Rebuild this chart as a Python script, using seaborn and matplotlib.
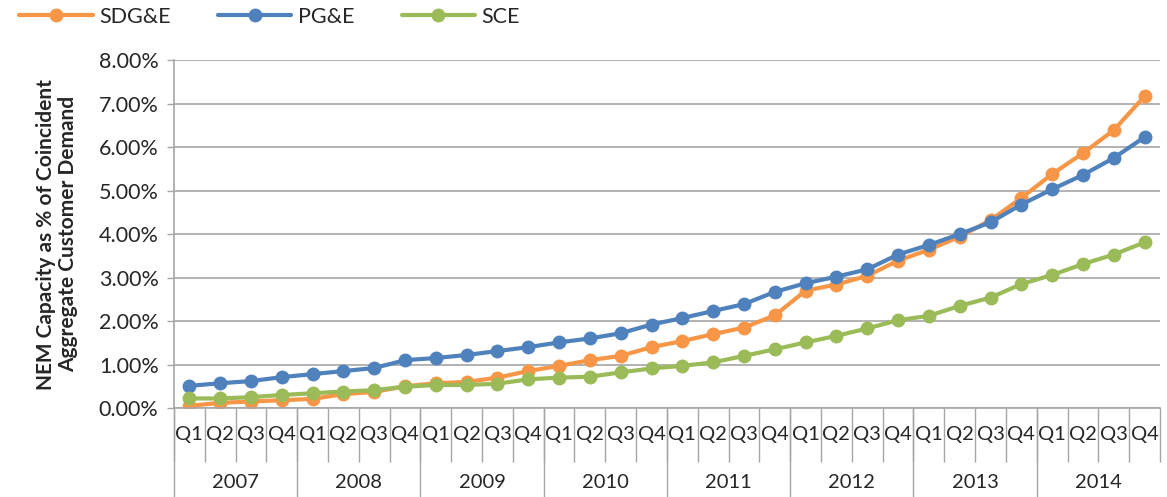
import matplotlib.pyplot as plt
import numpy as np
import pandas as pd
import seaborn as sns
from matplotlib.ticker import PercentFormatter

years = ["2007", "2008", "2009", "2010", "2011", "2012", "2013", "2014"]
quarters = ["Q1", "Q2", "Q3", "Q4"]

# share of coincident aggregate customer demand (percent)
sdge = [0.05, 0.12, 0.15, 0.18, 0.21, 0.32, 0.37, 0.50,
        0.57, 0.60, 0.70, 0.85, 0.97, 1.10, 1.20, 1.40,
        1.54, 1.70, 1.85, 2.13, 2.70, 2.84, 3.04, 3.39,
        3.64, 3.94, 4.32, 4.83, 5.38, 5.86, 6.39, 7.17]
pge = [0.51, 0.57, 0.62, 0.71, 0.78, 0.85, 0.92, 1.10,
       1.15, 1.22, 1.31, 1.40, 1.51, 1.60, 1.72, 1.92,
       2.07, 2.23, 2.39, 2.67, 2.87, 3.02, 3.19, 3.53,
       3.75, 4.00, 4.27, 4.68, 5.03, 5.36, 5.75, 6.23]
sce = [0.22, 0.22, 0.25, 0.30, 0.34, 0.38, 0.41, 0.49,
       0.53, 0.53, 0.56, 0.66, 0.70, 0.72, 0.82, 0.91,
       0.97, 1.05, 1.20, 1.35, 1.51, 1.66, 1.83, 2.02,
       2.12, 2.35, 2.54, 2.85, 3.06, 3.31, 3.53, 3.81]

names = ["SDG&E", "PG&E", "SCE"]
colors = {"SDG&E": "#F79646", "PG&E": "#4F81BD", "SCE": "#9BBB59"}

n = len(years) * len(quarters)
qlabels = quarters * len(years)
frames = []
for name, vals in zip(names, [sdge, pge, sce]):
    frames.append(pd.DataFrame({"idx": np.arange(n), "value": np.array(vals) / 100, "utility": name}))
data = pd.concat(frames, ignore_index=True)

sns.set_style("white")
plt.rcParams['font.family'] = ['Lato', 'DejaVu Sans']

fig = plt.figure(figsize=(11.67, 4.97), dpi=100)
ax = fig.add_axes([0.149, 0.179, 0.845, 0.70])

sns.lineplot(data=data, x="idx", y="value", hue="utility", hue_order=names,
             palette=colors, marker="o", markersize=10, markeredgewidth=0,
             linewidth=3, errorbar=None, legend=False, ax=ax)

grid_c = "#A6A6A6"
ax.set_xlim(-0.5, n - 0.5)
ax.set_ylim(0, 0.08)
ax.set_yticks(np.arange(0, 0.081, 0.01))
ax.yaxis.set_major_formatter(PercentFormatter(1, decimals=2))
ax.grid(axis="y", color=grid_c, linewidth=1.2)
ax.set_axisbelow(True)

ax.set_xticks(np.arange(n))
ax.set_xticklabels(qlabels)
ax.tick_params(axis="x", length=0, pad=13, labelsize=14.5)
ax.tick_params(axis="y", length=5, width=1, color=grid_c, direction="out",
               labelsize=15.5, pad=6, left=True)
ax.set_xlabel("")
ax.set_ylabel("NEM Capacity as % of Coincident\nAggregate Customer Demand",
              fontweight="bold", fontsize=15, linespacing=1.15)
ax.yaxis.set_label_coords(-0.097, 0.5)

for s in ["top", "right"]:
    ax.spines[s].set_visible(False)
for s in ["left", "bottom"]:
    ax.spines[s].set_color(grid_c)
    ax.spines[s].set_linewidth(1.2)

# category separators below the axis
trans = ax.get_xaxis_transform()
qb = np.arange(n + 1) - 0.5
ax.vlines(qb, -0.155, 0, transform=trans, colors=grid_c, linewidth=1, clip_on=False)
yb = np.arange(0, n + 1, 4) - 0.5
ax.vlines(yb[:-1], -0.26, 0, transform=trans, colors=grid_c, linewidth=1, clip_on=False)
for i, y in enumerate(years):
    ax.text(i * 4 + 1.5, -0.213, y, transform=trans, ha="center", va="center", fontsize=14.5)

handles = ax.get_lines()[:3]
fig.legend(handles, names, loc="upper left", bbox_to_anchor=(0.0, 1.025), ncol=3,
           frameon=False, fontsize=15.5, handlelength=3.4, handletextpad=0.3,
           columnspacing=2.2)

fig.savefig("out.png", dpi=100)
